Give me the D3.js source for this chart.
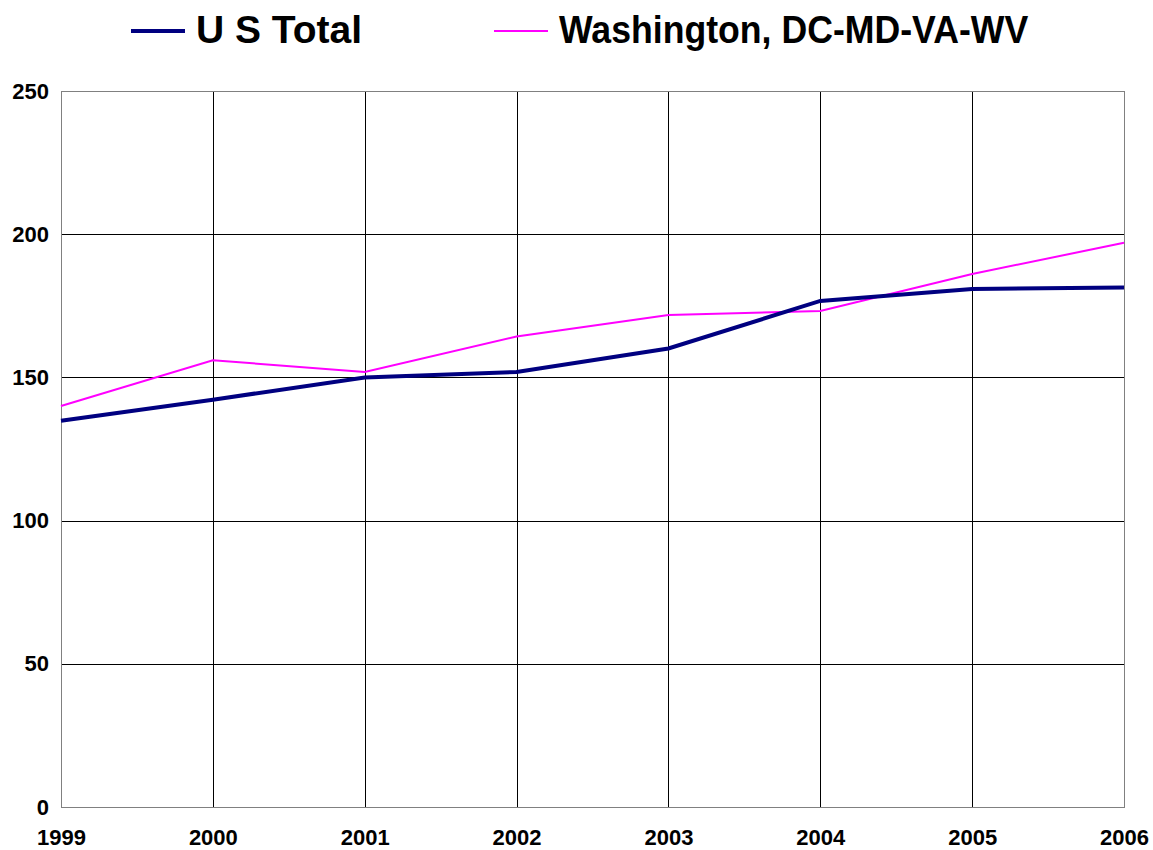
<!DOCTYPE html>
<html><head><meta charset="utf-8">
<script src="https://cdn.jsdelivr.net/npm/d3@7"></script>
<style>body{margin:0;background:#fff;} svg{display:block;font-family:"Liberation Sans",Arial,sans-serif;font-weight:bold;}</style>
</head><body><svg id="c" width="1153" height="850"></svg>
<script>
const years = ["1999","2000","2001","2002","2003","2004","2005","2006"];
const usTotal = [134.9, 142.2, 150.0, 151.9, 160.1, 176.7, 180.9, 181.4];
const washington = [140.0, 156.0, 151.9, 164.3, 171.8, 173.2, 186.1, 197.0];
const seriesNames = ["U S Total", "Washington, DC-MD-VA-WV"];
const yTicks = [0, 50, 100, 150, 200, 250];

const svg = d3.select("#c");
const L = 61, R = 1124, T = 91, B = 807;
const x = d3.scalePoint().domain(years).range([L, R]);
const y = d3.scaleLinear().domain([0, 250]).range([B, T]);

// grid
svg.append("g").selectAll("line").data(yTicks.slice(1, -1)).join("line")
  .attr("x1", L).attr("x2", R).attr("y1", d => Math.round(y(d)) + 0.5).attr("y2", d => Math.round(y(d)) + 0.5)
  .attr("stroke", "#000").attr("stroke-width", 1);
svg.append("g").selectAll("line").data(years.slice(1, -1)).join("line")
  .attr("y1", T).attr("y2", B).attr("x1", d => Math.round(x(d)) + 0.5).attr("x2", d => Math.round(x(d)) + 0.5)
  .attr("stroke", "#000").attr("stroke-width", 1);
svg.append("rect").attr("x", L + 0.5).attr("y", T + 0.5).attr("width", R - L).attr("height", B - T)
  .attr("fill", "none").attr("stroke", "#808080").attr("stroke-width", 1);

// axes labels
const yAxis = d3.axisLeft(y).tickValues(yTicks).tickSize(0).tickPadding(12);
const gy = svg.append("g").attr("transform", `translate(${L},0)`).call(yAxis);
gy.select(".domain").remove();
gy.selectAll("text").attr("font-size", 22).attr("font-weight", "bold").attr("font-family", "Liberation Sans, Arial, sans-serif").attr("fill", "#000");

const xAxis = d3.axisBottom(x).tickSize(0).tickPadding(22);
const gx = svg.append("g").attr("transform", `translate(0,${B})`).call(xAxis);
gx.select(".domain").remove();
gx.selectAll("text").attr("font-size", 22).attr("font-weight", "bold").attr("font-family", "Liberation Sans, Arial, sans-serif").attr("fill", "#000");

// lines
const line = d3.line().x((d, i) => x(years[i])).y(d => y(d));
svg.append("path").datum(washington).attr("d", line).attr("fill", "none").attr("stroke", "#FF00FF").attr("stroke-width", 2);
svg.append("path").datum(usTotal).attr("d", line).attr("fill", "none").attr("stroke", "#000080").attr("stroke-width", 4);

// legend
const leg = [
  {name: seriesNames[0], color: "#000080", w: 4, x0: 131, sx: 1},
  {name: seriesNames[1], color: "#FF00FF", w: 2, x0: 494, sx: 0.914}
];
const lg = svg.append("g");
leg.forEach(d => {
  lg.append("line").attr("x1", d.x0).attr("x2", d.x0 + 54).attr("y1", 31).attr("y2", 31)
    .attr("stroke", d.color).attr("stroke-width", d.w);
  lg.append("text").attr("transform", `translate(${d.x0 + 65},43) scale(${d.sx},1)`)
    .attr("font-size", 39).attr("font-weight", "bold")
    .attr("fill", "#000").text(d.name);
});
</script></body></html>
